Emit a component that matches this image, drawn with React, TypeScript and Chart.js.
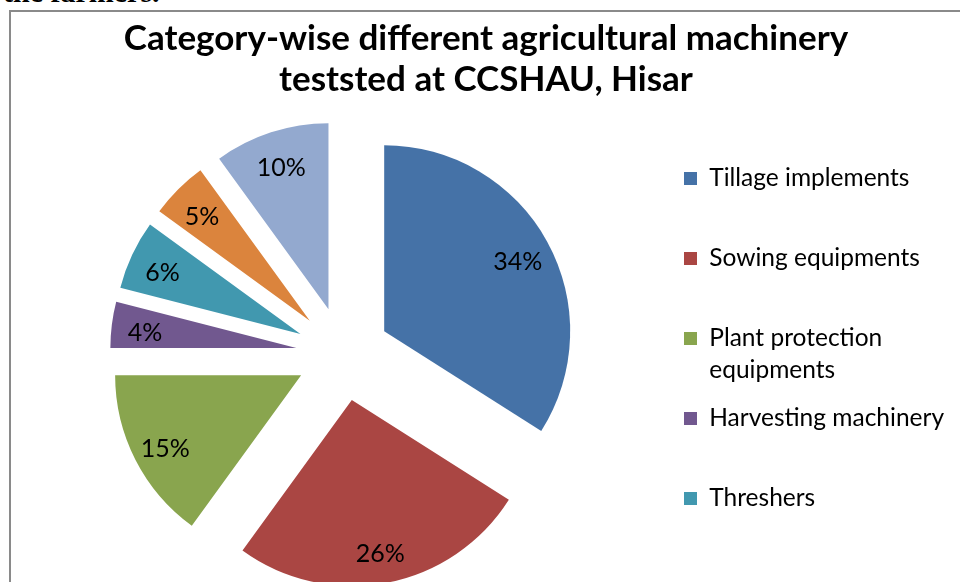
import React, { useEffect, useRef } from "react";
import { Chart, registerables } from "chart.js";

Chart.register(...registerables);

// ---- data ----
const categories: (string | string[])[] = [
  "Tillage implements",
  "Sowing equipments",
  ["Plant protection", "equipments"],
  "Harvesting machinery",
  "Threshers",
  "Category 6",
  "Category 7",
];
const percentages = [34, 26, 15, 4, 6, 5, 10];
const sliceColors = ["#4572A7", "#AA4643", "#89A54E", "#71588F", "#4198AF", "#DB843D", "#93A9CF"];
const titleLines = ["Category-wise different agricultural machinery", "teststed at CCSHAU, Hisar"];
const legendShown = 5;

// ---- layout / style ----
const CANVAS_W = 949;
const CANVAS_H = 600;
const FONT = "Lato";
const TITLE_SIZE = 35;
const LEGEND_SIZE = 24.5;
const LABEL_SIZE = 25;
const LEGEND_PAD = 16;
const LEGEND_BOX = 13;
const LEGEND_LINE = 32;
const LEGEND_LEFT = 657;
const LEGEND_TOP_GAP = 35.5;
const PIE_CX = 332;
const PIE_RADIUS = 186;
const EXPLODE = 47;
const LABEL_POS = 0.82;
const LABEL_DY = 4;

const explodePlugin = {
  id: "explodeSlices",
  afterDatasetUpdate(chart: any, args: any) {
    const meta = chart.getDatasetMeta(args.index);
    meta.data.forEach((arc: any) => {
      const mid = (arc.startAngle + arc.endAngle) / 2;
      arc.x += Math.cos(mid) * EXPLODE;
      arc.y += Math.sin(mid) * EXPLODE;
    });
  },
};

const pctLabelPlugin = {
  id: "pctLabels",
  afterDatasetsDraw(chart: any) {
    const { ctx } = chart;
    const meta = chart.getDatasetMeta(0);
    const values = chart.data.datasets[0].data;
    ctx.save();
    ctx.font = `${LABEL_SIZE}px ${FONT}`;
    ctx.fillStyle = "#000";
    ctx.textAlign = "center";
    ctx.textBaseline = "middle";
    meta.data.forEach((arc: any, i: number) => {
      const mid = (arc.startAngle + arc.endAngle) / 2;
      const d = arc.outerRadius * LABEL_POS;
      ctx.fillText(`${values[i]}%`, arc.x + Math.cos(mid) * d, arc.y + Math.sin(mid) * d + LABEL_DY);
    });
    ctx.restore();
  },
};

export default function App() {
  const canvasRef = useRef<HTMLCanvasElement | null>(null);

  useEffect(() => {
    const canvas = canvasRef.current;
    if (!canvas) return;

    // measure widest legend line to place legend exactly
    const m = document.createElement("canvas").getContext("2d")!;
    m.font = `${LEGEND_SIZE}px ${FONT}`;
    let textW = 0;
    categories.slice(0, legendShown).forEach((c) => {
      const lines = Array.isArray(c) ? c : [c];
      const longest = lines.reduce((a, b) => (a.length > b.length ? a : b));
      textW = Math.max(textW, m.measureText(longest).width);
    });
    const legendWidth = LEGEND_PAD + LEGEND_BOX + LEGEND_SIZE / 2 + textW + 10;
    const padR = CANVAS_W - LEGEND_LEFT - legendWidth;
    const padL = 2 * PIE_CX - LEGEND_LEFT;

    const baseGen = (Chart as any).overrides.pie.plugins.legend.labels.generateLabels;

    const chart = new Chart(canvas, {
      type: "pie",
      data: {
        labels: categories as any,
        datasets: [
          {
            data: percentages,
            backgroundColor: sliceColors,
            borderWidth: 0,
            radius: PIE_RADIUS,
          } as any,
        ],
      },
      options: {
        responsive: false,
        animation: false,
        events: [],
        layout: { padding: { left: padL, right: padR, top: 0, bottom: 19 } },
        plugins: {
          tooltip: { enabled: false },
          title: {
            display: true,
            text: titleLines,
            color: "#000",
            font: { family: FONT, size: TITLE_SIZE, weight: "bold", lineHeight: "41.4px" },
            padding: { top: 6, bottom: 14 },
          },
          legend: {
            position: "right",
            fullSize: false,
            align: "start",
            title: {
              display: true,
              text: "",
              font: { size: 10, lineHeight: "10px" },
              padding: { top: LEGEND_TOP_GAP - 10, bottom: 0 },
            },
            labels: {
              boxWidth: LEGEND_BOX,
              boxHeight: LEGEND_BOX,
              padding: LEGEND_PAD,
              color: "#000",
              font: { family: FONT, size: LEGEND_SIZE, lineHeight: `${LEGEND_LINE}px` },
              generateLabels: (c: any) =>
                baseGen(c)
                  .slice(0, legendShown)
                  .map((item: any) => ({
                    ...item,
                    text: Array.isArray(item.text) ? item.text : [item.text, ""],
                    lineWidth: 0,
                  })),
            },
          },
        },
      } as any,
      plugins: [explodePlugin, pctLabelPlugin],
    });
    return () => chart.destroy();
  }, []);

  return (
    <div
      style={{
        position: "fixed",
        left: 0,
        top: 0,
        width: 960,
        height: 582,
        overflow: "hidden",
        background: "#fff",
      }}
    >
      <div
        style={{
          position: "absolute",
          left: 3,
          top: -23,
          font: "bold 30px 'Liberation Serif'",
          lineHeight: "30px",
          color: "#000",
          whiteSpace: "nowrap",
        }}
      >
        the farmers.
      </div>
      <div
        style={{
          position: "absolute",
          left: 9,
          top: 10,
          width: 1100,
          height: 1100,
          border: "2px solid #8a8a8a",
          boxSizing: "border-box",
        }}
      />
      <canvas
        ref={canvasRef}
        width={CANVAS_W}
        height={CANVAS_H}
        style={{ position: "absolute", left: 11, top: 12, width: CANVAS_W, height: CANVAS_H }}
      />
    </div>
  );
}
